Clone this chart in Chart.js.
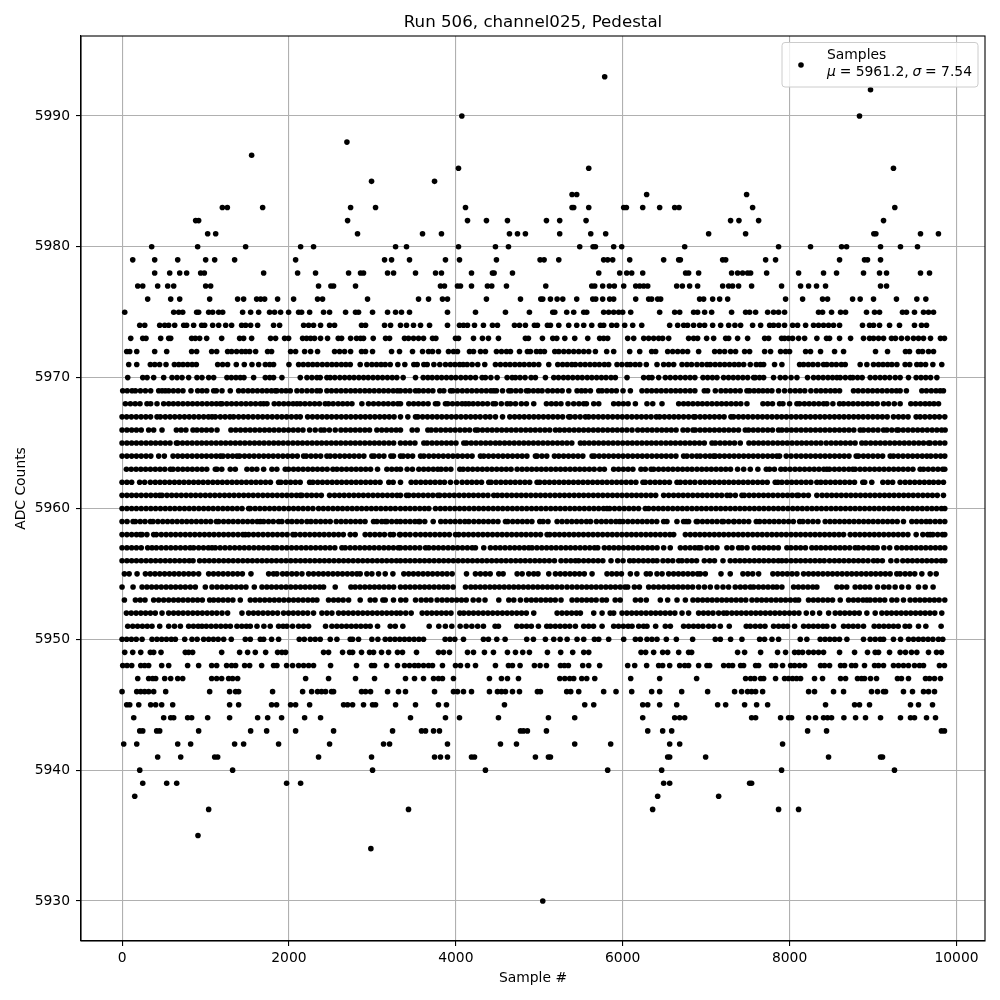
<!DOCTYPE html>
<html>
<head>
<meta charset="utf-8">
<title>Run 506, channel025, Pedestal</title>
<script src="https://cdn.jsdelivr.net/npm/chart.js@4"></script>
<style>
  html, body { margin: 0; padding: 0; background: #fff; }
  canvas { display: block; }
</style>
</head>
<body>
<canvas id="chart" width="1000" height="1000"></canvas>
<script>
// Tick labels
const xTicks = [0, 2000, 4000, 6000, 8000, 10000];
const yTicks = [5930, 5940, 5950, 5960, 5970, 5980, 5990];

// Sample numbers, one list per ADC level
const s5993 = [5784];
const s5992 = [8970];
const s5990 = [4072, 8838];
const s5988 = [2695];
const s5987 = [1553];
const s5986 = [4032, 5593, 9245];
const s5985 = [2990, 3745];
const s5984 = [5393, 5449, 6287, 7485];
const s5983 = [1202, 1262, 1685, 2739, 3038, 4116, 5393, 5413, 5593, 6012, 6044, 6240, 6443, 6623, 6675, 7557, 9261];
const s5982 = [882, 918, 2703, 4140, 4367, 4619, 5086, 5245, 5561, 7293, 7393, 7629, 9126];
const s5981 = [1026, 1122, 2822, 3601, 3828, 4643, 4739, 4834, 5245, 5617, 5796, 7030, 7473, 9010, 9034, 9569, 9784];
const s5980 = [355, 906, 1481, 2140, 2295, 3278, 3409, 4032, 4475, 4631, 5485, 5645, 5673, 5892, 5988, 6743, 7868, 8251, 8623, 8683, 9090, 9329, 9533];
const s5979 = [128, 391, 667, 1002, 1110, 1349, 2080, 3146, 3230, 3445, 3876, 4044, 4487, 5010, 5058, 5234, 5772, 5820, 5880, 6084, 6491, 6671, 6691, 7198, 7234, 7713, 7832, 8599, 8898, 8934, 9090];
const s5978 = [391, 571, 691, 774, 942, 986, 1697, 2104, 2319, 2715, 2858, 2894, 3182, 3254, 3517, 3757, 3828, 4188, 4439, 4459, 4679, 5713, 5964, 6048, 6108, 6240, 6754, 6790, 6910, 7305, 7377, 7437, 7497, 7533, 7725, 8108, 8407, 8563, 8886, 9078, 9162, 9569, 9677];
const s5977 = [188, 248, 427, 547, 619, 1002, 1062, 2355, 2503, 2535, 2798, 3816, 3864, 4020, 4056, 4188, 4379, 4431, 4607, 5078, 5629, 5665, 5760, 5840, 5900, 6012, 6156, 6204, 6252, 6300, 6647, 6715, 6802, 6898, 7198, 7270, 7317, 7389, 7545, 7904, 8132, 8228, 8323, 8431, 9090, 9162];
const s5976 = [307, 583, 691, 1050, 1385, 1457, 1613, 1661, 1709, 1864, 2056, 2343, 2403, 2942, 3553, 3673, 3840, 3900, 4367, 4775, 5018, 5042, 5134, 5214, 5282, 5449, 5641, 5677, 5760, 5844, 5892, 6156, 6311, 6347, 6419, 6455, 6922, 6970, 7078, 7162, 7258, 7952, 8156, 8395, 8455, 8755, 8846, 9006, 9281, 9525, 9633];
const s5975 = [32, 619, 679, 727, 894, 918, 1038, 1086, 1158, 1206, 1445, 1541, 1637, 1768, 1828, 1900, 1996, 2116, 2152, 2248, 2415, 2487, 2679, 2798, 2834, 3002, 3182, 3278, 3349, 3445, 3900, 4236, 4595, 4882, 5162, 5186, 5329, 5413, 5533, 5569, 5772, 5832, 5892, 5952, 6000, 6096, 6443, 6623, 6683, 6850, 6898, 6982, 7066, 7305, 7473, 7521, 7593, 7737, 7808, 7868, 7940, 8347, 8395, 8503, 8611, 8671, 8922, 9018, 9078, 9353, 9401, 9497, 9605, 9665, 9725];
const s5974 = [212, 272, 451, 511, 559, 631, 739, 774, 858, 954, 990, 1086, 1158, 1242, 1313, 1433, 1481, 1541, 1625, 1816, 1888, 2176, 2236, 2295, 2379, 2487, 2547, 2870, 2918, 3146, 3218, 3337, 3409, 3493, 3577, 3685, 3900, 4044, 4092, 4140, 4224, 4331, 4439, 4499, 4703, 4763, 4834, 4942, 4978, 5098, 5134, 5234, 5353, 5449, 5533, 5629, 5733, 5772, 5868, 5928, 6024, 6120, 6228, 6563, 6659, 6731, 6778, 6850, 6922, 6982, 7078, 7174, 7270, 7345, 7413, 7557, 7653, 7761, 7808, 7868, 7940, 8036, 8096, 8192, 8287, 8347, 8407, 8467, 8527, 8599, 8874, 8958, 9006, 9078, 9198, 9317, 9497, 9581, 9641];
const s5973 = [104, 248, 287, 463, 559, 583, 834, 878, 930, 1014, 1194, 1409, 1457, 1553, 1780, 1840, 1948, 1996, 2164, 2212, 2260, 2307, 2379, 2463, 2591, 2631, 2739, 2810, 2858, 2894, 3010, 3158, 3206, 3385, 3433, 3493, 3553, 3613, 3721, 3761, 3996, 4032, 4212, 4319, 4391, 4511, 4834, 4870, 5038, 5162, 5210, 5306, 5425, 5581, 5724, 5772, 5820, 6060, 6132, 6252, 6311, 6371, 6431, 6479, 6551, 6790, 6850, 6898, 7006, 7090, 7234, 7270, 7377, 7497, 7701, 7749, 7904, 7940, 7988, 8036, 8108, 8180, 8327, 8443, 8479, 8599, 8731, 8886, 8958, 9006, 9066, 9126, 9221, 9269, 9341, 9413, 9485, 9545, 9605, 9689, 9808, 9856];
const s5972 = [56, 92, 176, 391, 535, 834, 894, 1074, 1134, 1265, 1313, 1373, 1433, 1481, 1529, 1601, 1744, 1792, 2020, 2080, 2188, 2260, 2343, 2547, 2607, 2667, 2739, 2870, 2918, 3002, 3230, 3325, 3481, 3601, 3673, 3721, 3792, 3912, 3972, 4020, 4164, 4212, 4296, 4355, 4487, 4547, 4607, 4655, 4763, 4858, 4894, 4966, 5014, 5062, 5186, 5234, 5294, 5353, 5413, 5473, 5533, 5593, 5673, 5808, 5892, 6084, 6204, 6347, 6395, 6539, 6599, 6659, 6719, 6778, 6910, 7102, 7162, 7222, 7293, 7353, 7461, 7521, 7701, 7772, 7892, 7952, 8000, 8192, 8251, 8371, 8539, 8647, 9030, 9174, 9389, 9437, 9545, 9593, 9665, 9725];
const s5971 = [80, 176, 339, 392, 450, 527, 627, 680, 731, 786, 840, 890, 1146, 1205, 1265, 1369, 1465, 1557, 1637, 1717, 1770, 1816, 2000, 2116, 2172, 2230, 2285, 2340, 2400, 2458, 2515, 2570, 2628, 2682, 2735, 2854, 2934, 2994, 3050, 3104, 3154, 3214, 3305, 3389, 3497, 3537, 3617, 3657, 3737, 3808, 3876, 3935, 3990, 4045, 4088, 4136, 4196, 4263, 4347, 4475, 4535, 4595, 4650, 4708, 4765, 4820, 4880, 4935, 4994, 5114, 5222, 5280, 5335, 5390, 5433, 5493, 5550, 5608, 5665, 5720, 5780, 5832, 5932, 5990, 6052, 6092, 6150, 6205, 6283, 6411, 6491, 6551, 6611, 6711, 6770, 6825, 6890, 6950, 7010, 7050, 7108, 7165, 7222, 7280, 7338, 7392, 7450, 7529, 7601, 7650, 7689, 7820, 7908, 8120, 8168, 8225, 8280, 8340, 8407, 8447, 8505, 8560, 8620, 8667, 8846, 8926, 9006, 9066, 9120, 9175, 9226, 9286, 9385, 9440, 9525, 9573, 9630, 9717, 9824];
const s5970 = [68, 248, 300, 379, 499, 599, 659, 719, 798, 898, 958, 1038, 1098, 1257, 1310, 1365, 1417, 1461, 1577, 1717, 1770, 1816, 1916, 2136, 2216, 2275, 2335, 2375, 2455, 2495, 2550, 2610, 2668, 2725, 2780, 2838, 2895, 2950, 3008, 3065, 3122, 3180, 3238, 3293, 3369, 3517, 3609, 3665, 3717, 3775, 3830, 3888, 3945, 4000, 4060, 4118, 4176, 4236, 4315, 4355, 4420, 4495, 4615, 4675, 4715, 4770, 4830, 4902, 4954, 5074, 5174, 5230, 5290, 5345, 5402, 5460, 5515, 5575, 5630, 5688, 5745, 5800, 5860, 5912, 6052, 6251, 6311, 6351, 6431, 6511, 6570, 6631, 6691, 6750, 6808, 6865, 6962, 7018, 7075, 7130, 7209, 7268, 7325, 7382, 7440, 7498, 7569, 7589, 7640, 7689, 7808, 7888, 7948, 8018, 8088, 8215, 8287, 8345, 8402, 8460, 8515, 8567, 8607, 8668, 8727, 8758, 8815, 8870, 8966, 9026, 9085, 9142, 9200, 9266, 9325, 9425, 9517, 9575, 9632, 9690, 9765];
const s5969 = [8, 62, 120, 160, 220, 280, 343, 439, 480, 519, 559, 615, 672, 730, 826, 906, 960, 1015, 1098, 1130, 1198, 1297, 1397, 1452, 1510, 1565, 1622, 1680, 1735, 1790, 1836, 1856, 1912, 1965, 2016, 2096, 2155, 2216, 2275, 2335, 2375, 2455, 2510, 2568, 2625, 2682, 2740, 2795, 2852, 2910, 2965, 3022, 3080, 3136, 3192, 3250, 3300, 3337, 3395, 3450, 3517, 3557, 3612, 3670, 3725, 3808, 3856, 3936, 3964, 4020, 4078, 4135, 4192, 4250, 4308, 4365, 4420, 4455, 4487, 4560, 4635, 4663, 4720, 4778, 4846, 4874, 4930, 4985, 5034, 5102, 5160, 5218, 5275, 5354, 5453, 5505, 5553, 5613, 5713, 5753, 5810, 5868, 5924, 6004, 6092, 6231, 6290, 6347, 6405, 6462, 6520, 6578, 6635, 6691, 6750, 6808, 6865, 6978, 7018, 7110, 7178, 7235, 7292, 7350, 7408, 7489, 7521, 7575, 7629, 7681, 7735, 7788, 7868, 7940, 8008, 8068, 8125, 8182, 8255, 8319, 8375, 8432, 8490, 8545, 8599, 8766, 8822, 8880, 8938, 8995, 9052, 9110, 9168, 9225, 9280, 9325, 9400, 9585, 9640, 9698, 9755, 9805, 9844];
const s5968 = [40, 100, 158, 215, 299, 343, 419, 499, 559, 615, 672, 730, 788, 845, 902, 960, 1018, 1075, 1130, 1178, 1198, 1255, 1312, 1370, 1428, 1485, 1542, 1600, 1658, 1697, 1737, 1824, 1880, 1938, 1995, 2050, 2096, 2136, 2192, 2250, 2308, 2365, 2435, 2475, 2530, 2590, 2645, 2700, 2755, 2874, 2954, 3014, 3074, 3134, 3190, 3250, 3305, 3337, 3437, 3495, 3552, 3610, 3668, 3756, 3784, 3876, 3904, 3960, 4018, 4075, 4116, 4156, 4208, 4265, 4322, 4380, 4447, 4475, 4545, 4615, 4655, 4715, 4785, 4846, 4934, 5086, 5145, 5202, 5260, 5345, 5413, 5475, 5533, 5565, 5653, 5713, 5892, 5950, 6008, 6065, 6152, 6291, 6360, 6471, 6671, 6730, 6785, 6842, 6900, 6955, 7012, 7070, 7128, 7185, 7242, 7300, 7358, 7415, 7489, 7681, 7738, 7795, 7880, 7920, 8000, 8088, 8120, 8178, 8235, 8292, 8350, 8408, 8447, 8519, 8599, 8647, 8705, 8762, 8820, 8878, 8935, 8992, 9050, 9126, 9186, 9255, 9325, 9453, 9510, 9568, 9625, 9677, 9730, 9785];
const s5967 = [0, 55, 112, 170, 228, 285, 342, 419, 459, 518, 575, 632, 690, 748, 805, 862, 920, 978, 1035, 1078, 1118, 1178, 1235, 1292, 1337, 1397, 1455, 1512, 1570, 1628, 1685, 1742, 1800, 1858, 1915, 1972, 2030, 2088, 2136, 2224, 2282, 2340, 2398, 2455, 2512, 2570, 2628, 2685, 2742, 2800, 2858, 2915, 2972, 3030, 3088, 3145, 3202, 3260, 3337, 3425, 3517, 3545, 3602, 3660, 3718, 3775, 3832, 3890, 3948, 4005, 4062, 4120, 4178, 4235, 4292, 4355, 4410, 4475, 4560, 4647, 4705, 4762, 4820, 4878, 4935, 4992, 5050, 5108, 5165, 5222, 5280, 5353, 5373, 5430, 5490, 5553, 5593, 5650, 5708, 5765, 5822, 5880, 5938, 5995, 6052, 6110, 6168, 6225, 6282, 6340, 6403, 6443, 6500, 6558, 6615, 6671, 6730, 6790, 6850, 6870, 6928, 6985, 7042, 7100, 7158, 7215, 7297, 7329, 7388, 7445, 7502, 7560, 7618, 7675, 7732, 7790, 7848, 7905, 7962, 8020, 8078, 8135, 8192, 8250, 8308, 8365, 8422, 8480, 8538, 8595, 8652, 8710, 8768, 8825, 8882, 8940, 8998, 9055, 9112, 9170, 9245, 9305, 9362, 9420, 9517, 9565, 9622, 9680, 9738, 9795, 9860];
const s5966 = [0, 58, 115, 172, 230, 319, 379, 479, 651, 708, 765, 850, 898, 955, 1012, 1070, 1138, 1305, 1362, 1420, 1478, 1535, 1592, 1650, 1708, 1765, 1822, 1880, 1938, 1995, 2052, 2110, 2168, 2248, 2315, 2383, 2423, 2485, 2555, 2623, 2680, 2738, 2795, 2852, 2910, 2966, 3054, 3112, 3170, 3228, 3285, 3337, 3477, 3537, 3665, 3705, 3762, 3820, 3878, 3935, 3992, 4050, 4108, 4165, 4235, 4263, 4320, 4378, 4435, 4492, 4550, 4608, 4665, 4722, 4780, 4838, 4895, 4952, 5010, 5068, 5125, 5194, 5245, 5302, 5360, 5418, 5475, 5532, 5590, 5648, 5705, 5762, 5820, 5878, 5935, 5992, 6050, 6112, 6180, 6238, 6295, 6352, 6410, 6468, 6525, 6582, 6640, 6723, 6778, 6842, 6870, 6928, 6985, 7042, 7100, 7158, 7215, 7272, 7330, 7388, 7469, 7509, 7565, 7622, 7680, 7738, 7795, 7868, 7908, 7965, 8022, 8080, 8138, 8195, 8252, 8310, 8368, 8425, 8482, 8540, 8598, 8655, 8712, 8770, 8846, 8886, 8945, 9002, 9060, 9126, 9166, 9225, 9285, 9305, 9362, 9420, 9478, 9535, 9592, 9650, 9708, 9765, 9822, 9864];
const s5965 = [0, 58, 115, 172, 230, 288, 345, 402, 460, 518, 575, 651, 667, 725, 782, 840, 898, 955, 1012, 1070, 1128, 1185, 1242, 1300, 1358, 1415, 1472, 1530, 1588, 1645, 1702, 1760, 1818, 1875, 1932, 1990, 2048, 2105, 2162, 2220, 2278, 2335, 2392, 2450, 2508, 2565, 2622, 2680, 2738, 2795, 2852, 2910, 2968, 3025, 3082, 3140, 3198, 3255, 3337, 3395, 3452, 3510, 3617, 3657, 3715, 3772, 3830, 3888, 3945, 4002, 4096, 4128, 4185, 4242, 4300, 4358, 4415, 4475, 4527, 4585, 4642, 4700, 4758, 4815, 4872, 4930, 4988, 5045, 5102, 5160, 5218, 5275, 5332, 5390, 5493, 5541, 5598, 5655, 5712, 5770, 5828, 5885, 5942, 6000, 6058, 6115, 6172, 6230, 6288, 6345, 6402, 6460, 6518, 6575, 6632, 6691, 6748, 6805, 6862, 6920, 6978, 7070, 7110, 7168, 7225, 7282, 7340, 7409, 7513, 7570, 7628, 7685, 7742, 7800, 7858, 7915, 7972, 8030, 8088, 8145, 8202, 8260, 8318, 8375, 8439, 8498, 8555, 8612, 8670, 8728, 8785, 8866, 8914, 8972, 9030, 9088, 9145, 9202, 9260, 9318, 9375, 9432, 9490, 9548, 9605, 9665, 9685, 9745, 9802, 9860];
const s5964 = [0, 58, 115, 172, 230, 288, 345, 439, 507, 611, 668, 725, 782, 840, 898, 955, 1012, 1070, 1128, 1178, 1210, 1268, 1325, 1377, 1409, 1468, 1525, 1582, 1640, 1698, 1755, 1812, 1870, 1928, 1985, 2042, 2100, 2176, 2208, 2265, 2322, 2380, 2455, 2495, 2552, 2610, 2668, 2725, 2782, 2840, 2898, 2994, 3022, 3080, 3138, 3222, 3253, 3337, 3369, 3425, 3482, 3577, 3617, 3677, 3735, 3792, 3850, 3908, 3965, 4022, 4080, 4138, 4195, 4295, 4335, 4392, 4450, 4508, 4565, 4622, 4680, 4738, 4795, 4852, 4954, 4974, 5032, 5090, 5182, 5234, 5292, 5350, 5408, 5465, 5522, 5633, 5661, 5718, 5775, 5832, 5890, 5948, 6005, 6062, 6120, 6178, 6235, 6292, 6350, 6408, 6465, 6522, 6580, 6638, 6730, 6770, 6830, 6888, 6930, 6990, 7045, 7090, 7110, 7162, 7220, 7278, 7335, 7392, 7450, 7508, 7565, 7622, 7680, 7738, 7795, 7848, 7880, 7960, 8018, 8080, 8138, 8195, 8252, 8310, 8368, 8425, 8482, 8540, 8598, 8655, 8712, 8798, 8826, 8885, 8942, 9000, 9058, 9115, 9206, 9245, 9302, 9360, 9418, 9475, 9532, 9590, 9645, 9693, 9752, 9810, 9860];
const s5963 = [52, 110, 168, 225, 282, 340, 398, 455, 512, 579, 611, 670, 728, 785, 842, 900, 958, 1015, 1118, 1138, 1195, 1297, 1357, 1497, 1557, 1615, 1697, 1796, 1855, 1956, 1996, 2055, 2112, 2170, 2228, 2285, 2342, 2400, 2458, 2527, 2575, 2632, 2690, 2748, 2805, 2862, 2920, 2978, 3062, 3174, 3232, 3290, 3337, 3417, 3480, 3557, 3615, 3672, 3730, 3784, 3824, 3882, 3940, 4048, 4088, 4145, 4202, 4260, 4318, 4375, 4432, 4490, 4548, 4605, 4662, 4735, 4794, 4852, 4910, 4968, 5025, 5082, 5140, 5198, 5255, 5312, 5370, 5428, 5485, 5542, 5600, 5658, 5725, 5780, 5892, 5950, 6008, 6065, 6122, 6219, 6271, 6340, 6371, 6430, 6488, 6545, 6602, 6660, 6718, 6775, 6830, 6890, 6948, 7005, 7062, 7120, 7178, 7235, 7292, 7377, 7450, 7529, 7620, 7721, 7760, 7818, 7896, 7948, 8006, 8065, 8122, 8180, 8238, 8295, 8352, 8410, 8447, 8479, 8538, 8595, 8652, 8710, 8758, 8786, 8845, 8902, 8960, 9018, 9075, 9132, 9190, 9248, 9305, 9362, 9420, 9478, 9565, 9605, 9662, 9720, 9778, 9835, 9860];
const s5962 = [0, 58, 115, 211, 271, 339, 398, 455, 512, 570, 628, 685, 742, 800, 858, 915, 972, 1030, 1088, 1145, 1202, 1260, 1318, 1375, 1432, 1490, 1548, 1605, 1662, 1720, 1778, 1876, 1904, 1962, 2020, 2078, 2135, 2248, 2287, 2345, 2402, 2460, 2518, 2575, 2632, 2690, 2748, 2805, 2862, 2920, 2978, 3035, 3092, 3197, 3249, 3337, 3465, 3522, 3580, 3638, 3695, 3752, 3810, 3864, 3936, 4008, 4076, 4135, 4192, 4250, 4308, 4395, 4423, 4482, 4540, 4598, 4655, 4712, 4770, 4828, 4885, 4974, 5006, 5065, 5122, 5180, 5238, 5295, 5352, 5410, 5468, 5525, 5582, 5640, 5698, 5755, 5812, 5870, 5928, 5985, 6042, 6100, 6158, 6243, 6271, 6330, 6388, 6445, 6502, 6560, 6651, 6691, 6750, 6808, 6865, 6930, 6985, 7042, 7100, 7158, 7215, 7272, 7330, 7388, 7445, 7502, 7560, 7618, 7675, 7732, 7828, 7860, 7908, 7968, 8025, 8082, 8140, 8198, 8255, 8327, 8375, 8432, 8490, 8548, 8605, 8662, 8720, 8778, 8878, 8900, 8985, 9118, 9178, 9235, 9325, 9385, 9442, 9500, 9558, 9615, 9672, 9725, 9784, 9844];
const s5961 = [0, 58, 115, 172, 230, 288, 345, 402, 451, 479, 538, 595, 652, 710, 768, 825, 882, 940, 998, 1055, 1112, 1170, 1228, 1285, 1342, 1400, 1458, 1515, 1572, 1630, 1688, 1745, 1802, 1860, 1918, 1975, 2032, 2090, 2136, 2156, 2215, 2272, 2330, 2388, 2487, 2547, 2605, 2662, 2720, 2778, 2835, 2892, 2950, 3008, 3065, 3122, 3180, 3238, 3295, 3337, 3409, 3437, 3495, 3552, 3610, 3668, 3725, 3784, 3808, 3866, 3924, 3982, 4040, 4098, 4155, 4212, 4270, 4328, 4385, 4455, 4500, 4555, 4612, 4670, 4728, 4785, 4842, 4900, 4958, 5015, 5072, 5130, 5188, 5245, 5302, 5360, 5418, 5475, 5532, 5590, 5648, 5705, 5762, 5820, 5878, 5935, 5992, 6050, 6108, 6165, 6222, 6280, 6338, 6395, 6491, 6551, 6610, 6668, 6725, 6782, 6840, 6898, 6955, 7012, 7070, 7128, 7185, 7250, 7289, 7350, 7429, 7457, 7515, 7572, 7630, 7688, 7745, 7802, 7860, 7918, 7975, 8032, 8088, 8108, 8168, 8225, 8327, 8390, 8447, 8505, 8562, 8620, 8678, 8735, 8792, 8850, 8908, 8965, 9022, 9080, 9138, 9195, 9252, 9310, 9368, 9425, 9482, 9540, 9598, 9655, 9712, 9770, 9844];
const s5960 = [0, 58, 115, 172, 230, 288, 345, 402, 460, 518, 575, 632, 690, 748, 805, 862, 920, 978, 1035, 1092, 1150, 1208, 1265, 1322, 1380, 1438, 1517, 1537, 1595, 1652, 1710, 1768, 1825, 1882, 1940, 1998, 2055, 2112, 2170, 2228, 2287, 2355, 2412, 2470, 2528, 2585, 2642, 2700, 2758, 2815, 2872, 2930, 2988, 3045, 3102, 3160, 3218, 3275, 3337, 3395, 3452, 3510, 3568, 3625, 3677, 3756, 3815, 3872, 3930, 3988, 4045, 4102, 4160, 4218, 4275, 4332, 4390, 4448, 4505, 4562, 4620, 4678, 4735, 4792, 4850, 4908, 4965, 5022, 5080, 5138, 5195, 5252, 5310, 5368, 5425, 5482, 5540, 5598, 5655, 5712, 5770, 5812, 5844, 5902, 5960, 6018, 6075, 6132, 6190, 6271, 6311, 6370, 6428, 6485, 6542, 6600, 6658, 6715, 6772, 6830, 6888, 6945, 7002, 7060, 7118, 7175, 7232, 7290, 7348, 7405, 7462, 7520, 7578, 7635, 7692, 7750, 7808, 7865, 7922, 7980, 8038, 8095, 8152, 8210, 8268, 8325, 8382, 8440, 8498, 8555, 8612, 8670, 8728, 8785, 8842, 8900, 8958, 9015, 9072, 9130, 9188, 9245, 9302, 9360, 9418, 9475, 9532, 9590, 9648, 9705, 9762, 9820, 9860];
const s5959 = [0, 60, 132, 160, 218, 275, 339, 371, 430, 488, 545, 602, 660, 718, 775, 832, 890, 948, 1005, 1062, 1130, 1158, 1217, 1275, 1332, 1390, 1448, 1505, 1562, 1620, 1657, 1697, 1755, 1812, 1876, 1916, 1984, 2036, 2095, 2152, 2216, 2264, 2322, 2380, 2438, 2495, 2567, 2625, 2682, 2740, 2798, 2855, 2912, 3014, 3054, 3112, 3154, 3174, 3232, 3290, 3337, 3395, 3452, 3510, 3557, 3569, 3628, 3729, 3820, 3876, 3935, 3992, 4050, 4108, 4156, 4216, 4275, 4332, 4390, 4448, 4505, 4595, 4623, 4682, 4740, 4798, 4855, 4912, 5006, 5046, 5105, 5214, 5273, 5332, 5390, 5448, 5505, 5565, 5615, 5685, 5745, 5802, 5860, 5918, 5964, 6004, 6062, 6120, 6178, 6235, 6292, 6350, 6408, 6491, 6530, 6650, 6730, 6762, 6790, 6882, 6898, 6956, 7014, 7072, 7130, 7190, 7209, 7268, 7329, 7337, 7395, 7452, 7510, 7601, 7641, 7700, 7758, 7815, 7872, 7930, 7988, 8045, 8120, 8160, 8220, 8280, 8340, 8427, 8485, 8542, 8600, 8658, 8715, 8772, 8830, 8888, 8945, 9002, 9060, 9118, 9175, 9232, 9290, 9365, 9465, 9522, 9580, 9637, 9685, 9745, 9802, 9860];
const s5958 = [0, 58, 115, 172, 219, 240, 298, 379, 411, 470, 528, 585, 642, 700, 758, 815, 872, 930, 988, 1045, 1102, 1160, 1218, 1275, 1332, 1390, 1448, 1477, 1517, 1575, 1632, 1690, 1748, 1805, 1862, 1920, 1978, 2048, 2076, 2135, 2192, 2250, 2308, 2365, 2422, 2480, 2538, 2595, 2652, 2735, 2794, 2914, 2972, 3030, 3088, 3145, 3214, 3253, 3325, 3337, 3395, 3452, 3517, 3577, 3635, 3692, 3750, 3808, 3865, 3922, 3996, 4036, 4095, 4152, 4210, 4268, 4325, 4382, 4440, 4498, 4555, 4612, 4670, 4728, 4785, 4842, 4900, 4958, 5015, 5094, 5126, 5185, 5242, 5300, 5358, 5415, 5472, 5530, 5588, 5645, 5702, 5760, 5818, 5875, 5932, 5990, 6048, 6105, 6162, 6220, 6278, 6335, 6392, 6450, 6508, 6565, 6611, 6751, 6810, 6868, 6925, 6982, 7040, 7098, 7155, 7212, 7270, 7328, 7385, 7442, 7500, 7558, 7615, 7672, 7730, 7788, 7845, 7902, 7960, 8018, 8075, 8132, 8190, 8248, 8305, 8362, 8420, 8478, 8535, 8592, 8647, 8727, 8785, 8842, 8900, 8958, 9015, 9072, 9130, 9188, 9245, 9302, 9360, 9418, 9517, 9597, 9655, 9685, 9717, 9775, 9832, 9860];
const s5957 = [0, 58, 115, 172, 230, 307, 359, 411, 470, 528, 585, 642, 700, 758, 815, 858, 918, 976, 1034, 1078, 1118, 1176, 1234, 1292, 1350, 1408, 1465, 1522, 1580, 1638, 1695, 1752, 1810, 1856, 1916, 1974, 2032, 2090, 2148, 2205, 2262, 2320, 2378, 2435, 2492, 2550, 2635, 2675, 2734, 2792, 2850, 2908, 2965, 3022, 3080, 3138, 3195, 3252, 3310, 3337, 3395, 3452, 3510, 3568, 3637, 3677, 3735, 3792, 3850, 3908, 3965, 4022, 4080, 4138, 4196, 4235, 4335, 4415, 4475, 4532, 4590, 4648, 4705, 4762, 4820, 4874, 4914, 4972, 5030, 5088, 5145, 5202, 5260, 5318, 5375, 5432, 5490, 5548, 5605, 5662, 5701, 5780, 5838, 5895, 5952, 6010, 6068, 6125, 6182, 6240, 6298, 6355, 6412, 6491, 6570, 6691, 6750, 6808, 6865, 6910, 6938, 7010, 7070, 7130, 7249, 7310, 7389, 7430, 7490, 7577, 7635, 7692, 7750, 7808, 7865, 7968, 8016, 8075, 8132, 8190, 8267, 8320, 8375, 8432, 8490, 8548, 8605, 8662, 8720, 8786, 8826, 8885, 8946, 9000, 9050, 9130, 9200, 9285, 9345, 9402, 9460, 9518, 9575, 9632, 9690, 9748, 9805, 9860];
const s5956 = [0, 58, 115, 172, 230, 288, 345, 402, 460, 518, 575, 632, 690, 748, 805, 851, 930, 988, 1045, 1102, 1160, 1218, 1275, 1332, 1390, 1448, 1505, 1562, 1620, 1678, 1735, 1792, 1850, 1908, 1965, 2022, 2080, 2138, 2195, 2252, 2310, 2368, 2425, 2482, 2540, 2598, 2655, 2712, 2770, 2828, 2885, 2942, 3000, 3058, 3115, 3172, 3230, 3288, 3337, 3395, 3452, 3510, 3568, 3625, 3682, 3740, 3798, 3855, 3912, 3970, 4028, 4085, 4142, 4200, 4258, 4315, 4372, 4430, 4488, 4545, 4602, 4660, 4718, 4775, 4832, 4890, 4948, 5005, 5062, 5120, 5182, 5261, 5320, 5378, 5433, 5473, 5532, 5590, 5648, 5705, 5762, 5860, 5940, 6004, 6084, 6132, 6190, 6248, 6305, 6362, 6411, 6483, 6542, 6600, 6671, 6711, 6770, 6828, 6885, 6978, 7042, 7100, 7202, 7289, 7348, 7405, 7462, 7520, 7578, 7635, 7692, 7750, 7808, 7865, 7908, 7960, 8018, 8075, 8132, 8190, 8248, 8305, 8362, 8415, 8479, 8538, 8595, 8652, 8710, 8768, 8825, 8882, 8940, 9006, 9054, 9112, 9214, 9285, 9357, 9415, 9472, 9530, 9588, 9645, 9702, 9760, 9818, 9860];
const s5955 = [28, 85, 180, 280, 338, 395, 452, 510, 568, 625, 682, 740, 798, 855, 918, 1038, 1096, 1154, 1212, 1270, 1328, 1385, 1442, 1545, 1757, 1815, 1856, 1924, 1976, 2035, 2092, 2156, 2236, 2295, 2355, 2412, 2470, 2528, 2585, 2642, 2700, 2758, 2814, 2854, 2934, 2994, 3074, 3154, 3246, 3377, 3435, 3492, 3550, 3608, 3665, 3722, 3780, 3838, 3895, 3956, 4128, 4235, 4295, 4355, 4412, 4515, 4567, 4735, 4795, 4874, 4934, 4985, 5114, 5194, 5252, 5310, 5368, 5425, 5482, 5540, 5633, 5812, 5870, 5928, 5985, 6092, 6170, 6283, 6330, 6411, 6472, 6551, 6610, 6668, 6725, 6782, 6840, 6898, 6930, 6990, 7178, 7289, 7441, 7500, 7558, 7629, 7800, 7858, 7915, 7972, 8030, 8088, 8168, 8227, 8285, 8342, 8400, 8458, 8515, 8572, 8630, 8688, 8745, 8802, 8860, 8918, 8975, 9032, 9090, 9148, 9205, 9285, 9325, 9385, 9442, 9500, 9585, 9685, 9757];
const s5954 = [0, 132, 240, 298, 355, 412, 470, 528, 585, 642, 700, 758, 818, 878, 998, 1078, 1138, 1196, 1254, 1312, 1370, 1428, 1485, 1585, 1677, 1735, 1792, 1850, 1908, 1965, 2022, 2080, 2138, 2195, 2252, 2310, 2368, 2415, 2555, 2743, 2794, 2852, 2910, 2968, 3025, 3082, 3140, 3198, 3255, 3337, 3395, 3452, 3510, 3568, 3625, 3682, 3740, 3798, 3855, 3904, 3968, 4116, 4180, 4235, 4293, 4350, 4408, 4465, 4522, 4580, 4638, 4695, 4752, 4810, 4868, 4925, 4982, 5040, 5098, 5155, 5212, 5270, 5333, 5393, 5452, 5510, 5568, 5625, 5682, 5740, 5798, 5855, 5912, 5970, 6028, 6060, 6140, 6200, 6311, 6371, 6430, 6491, 6550, 6608, 6665, 6722, 6780, 6838, 6910, 6980, 7050, 7130, 7202, 7269, 7349, 7410, 7468, 7529, 7569, 7628, 7685, 7742, 7800, 7848, 7908, 8048, 8105, 8162, 8220, 8278, 8327, 8567, 8625, 8685, 8786, 8846, 8905, 8962, 9054, 9128, 9190, 9265, 9345, 9425, 9545, 9625, 9720];
const s5953 = [28, 160, 218, 275, 379, 439, 499, 559, 618, 675, 732, 790, 848, 905, 962, 1050, 1098, 1155, 1212, 1270, 1328, 1417, 1537, 1595, 1652, 1710, 1768, 1825, 1882, 1940, 1998, 2055, 2112, 2170, 2228, 2285, 2335, 2475, 2535, 2592, 2650, 2715, 2854, 2974, 3032, 3126, 3154, 3253, 3340, 3400, 3517, 3585, 3645, 3702, 3776, 3836, 3895, 3952, 4010, 4068, 4125, 4208, 4275, 4350, 4515, 4635, 4695, 4774, 4846, 4905, 4962, 5020, 5078, 5135, 5192, 5261, 5393, 5452, 5510, 5568, 5625, 5682, 5753, 5805, 5910, 5970, 6152, 6215, 6283, 6451, 6539, 6651, 6751, 6842, 6900, 6958, 7015, 7072, 7130, 7188, 7245, 7302, 7360, 7418, 7475, 7549, 7608, 7665, 7722, 7780, 7838, 7895, 7952, 8010, 8068, 8108, 8227, 8285, 8342, 8400, 8458, 8515, 8607, 8707, 8765, 8822, 8880, 8926, 8966, 9025, 9082, 9140, 9226, 9285, 9365, 9445, 9505, 9562, 9620, 9678, 9735, 9792, 9860];
const s5952 = [52, 110, 168, 225, 282, 340, 398, 479, 559, 618, 675, 732, 790, 848, 905, 962, 1020, 1078, 1135, 1198, 1265, 1437, 1517, 1575, 1632, 1690, 1748, 1805, 1864, 1936, 1995, 2052, 2110, 2168, 2225, 2295, 2395, 2455, 2515, 2595, 2654, 2712, 2770, 2828, 2885, 2942, 3000, 3058, 3115, 3172, 3230, 3288, 3337, 3400, 3465, 3597, 3655, 3712, 3770, 3828, 3885, 3942, 4048, 4096, 4155, 4212, 4270, 4328, 4385, 4442, 4500, 4558, 4615, 4672, 4730, 4788, 4845, 4934, 5214, 5272, 5330, 5388, 5445, 5493, 5653, 5753, 5850, 5892, 5992, 6050, 6108, 6165, 6222, 6280, 6338, 6395, 6452, 6510, 6568, 6625, 6711, 6790, 6910, 6968, 7025, 7082, 7150, 7210, 7249, 7308, 7365, 7422, 7480, 7538, 7595, 7652, 7710, 7768, 7825, 7882, 7940, 7998, 8055, 8112, 8200, 8276, 8360, 8468, 8547, 8605, 8662, 8720, 8778, 8835, 8926, 9026, 9106, 9165, 9222, 9280, 9338, 9395, 9452, 9510, 9568, 9625, 9682, 9740, 9824];
const s5951 = [68, 128, 186, 244, 302, 359, 451, 559, 628, 699, 798, 855, 912, 958, 1010, 1068, 1126, 1184, 1242, 1298, 1377, 1435, 1490, 1537, 1617, 1700, 1776, 1876, 1930, 1976, 2044, 2116, 2175, 2235, 2439, 2515, 2574, 2632, 2690, 2748, 2805, 2862, 2920, 2974, 3062, 3214, 3274, 3365, 3681, 3796, 3875, 3952, 4052, 4124, 4192, 4262, 4331, 4471, 4511, 4731, 4790, 4848, 4905, 4990, 5090, 5134, 5192, 5250, 5308, 5365, 5433, 5533, 5592, 5650, 5753, 5892, 5950, 6008, 6065, 6112, 6192, 6250, 6291, 6395, 6511, 6571, 6730, 6790, 6848, 6905, 6962, 7030, 7090, 7170, 7277, 7481, 7529, 7589, 7648, 7705, 7808, 7868, 7925, 7976, 8060, 8168, 8228, 8285, 8342, 8400, 8447, 8527, 8647, 8705, 8762, 8820, 8886, 9014, 9072, 9130, 9188, 9245, 9302, 9385, 9437, 9545, 9633, 9816];
const s5950 = [0, 55, 112, 170, 240, 359, 418, 475, 532, 590, 639, 751, 838, 900, 978, 1038, 1095, 1152, 1218, 1309, 1477, 1537, 1657, 1697, 1792, 1876, 2124, 2184, 2256, 2315, 2375, 2495, 2575, 2735, 2763, 2834, 2994, 3066, 3154, 3212, 3270, 3328, 3385, 3442, 3500, 3558, 3613, 3872, 3930, 3988, 4092, 4331, 4391, 4491, 4591, 4850, 4930, 5074, 5174, 5250, 5334, 5453, 5533, 5661, 5713, 5832, 6012, 6152, 6211, 6291, 6350, 6411, 6523, 6643, 6838, 7110, 7170, 7293, 7429, 7641, 7700, 7789, 7868, 8128, 8207, 8367, 8425, 8482, 8540, 8598, 8687, 8886, 8966, 9026, 9086, 9126, 9245, 9330, 9425, 9485, 9545, 9602, 9660, 9718, 9784, 9836];
const s5949 = [32, 128, 224, 339, 379, 467, 758, 798, 846, 1194, 1409, 1505, 1597, 1721, 1864, 1916, 1960, 2415, 2475, 2643, 2727, 2763, 2870, 2966, 3014, 3110, 3194, 3301, 3361, 3529, 3792, 3852, 3924, 4140, 4212, 4343, 4451, 4619, 4715, 4802, 4882, 5098, 5257, 5401, 5533, 5593, 6220, 6275, 6371, 6479, 6539, 6671, 6790, 6826, 7377, 7461, 7653, 7856, 7952, 8060, 8108, 8156, 8228, 8287, 8347, 8407, 8599, 8779, 8934, 9026, 9066, 9198, 9325, 9389, 9461, 9525, 9665, 9761, 9820];
const s5948 = [8, 60, 116, 224, 271, 319, 475, 559, 786, 918, 1074, 1134, 1253, 1313, 1361, 1469, 1529, 1673, 1816, 1856, 1972, 2044, 2116, 2176, 2236, 2295, 2499, 2810, 2990, 3026, 3170, 3301, 3385, 3445, 3505, 3553, 3613, 3673, 3721, 3840, 3996, 4056, 4140, 4236, 4475, 4631, 4679, 4770, 4942, 5010, 5086, 5254, 5301, 5349, 5521, 5593, 5724, 6060, 6144, 6287, 6431, 6479, 6563, 6683, 6743, 6790, 6910, 7010, 7042, 7210, 7270, 7317, 7413, 7449, 7593, 7629, 7784, 7832, 7916, 8012, 8060, 8120, 8180, 8371, 8419, 8479, 8611, 8659, 8743, 8791, 8898, 9018, 9066, 9126, 9245, 9305, 9365, 9425, 9497, 9557, 9605, 9796, 9856];
const s5947 = [188, 319, 367, 403, 511, 583, 667, 727, 1074, 1134, 1194, 1277, 1325, 1385, 2200, 2475, 2798, 3026, 3397, 3505, 3613, 3733, 3792, 3840, 3972, 4403, 4547, 4619, 4751, 5246, 5306, 5365, 5413, 5509, 5569, 5665, 6096, 6443, 6886, 7473, 7533, 7581, 7653, 7689, 7832, 7940, 7988, 8036, 8084, 8132, 8299, 8395, 8611, 8671, 8814, 8862, 8898, 8970, 9042, 9293, 9341, 9425, 9629, 9677, 9737, 9808];
const s5946 = [0, 176, 224, 271, 319, 379, 523, 1050, 1289, 1361, 1397, 1804, 2164, 2272, 2343, 2391, 2439, 2511, 2535, 2870, 2918, 2978, 3182, 3313, 3397, 3745, 3972, 4020, 4092, 4188, 4403, 4499, 4547, 4595, 4679, 4763, 4978, 5014, 5329, 5377, 5473, 5772, 5920, 6108, 6347, 6443, 6707, 7018, 7341, 7425, 7497, 7545, 7593, 7677, 8228, 8299, 8527, 8647, 8982, 9054, 9126, 9150, 9365, 9473, 9605, 9665, 9737];
const s5945 = [56, 92, 200, 343, 403, 475, 607, 1289, 1397, 1792, 1852, 2020, 2080, 2248, 2655, 2703, 2763, 2894, 3002, 3038, 3278, 3517, 3792, 3888, 4583, 5545, 5653, 6240, 6300, 6443, 6647, 7138, 7234, 7461, 7605, 7737, 8431, 8779, 8838, 8958, 9449, 9545, 9713];
const s5944 = [140, 499, 583, 619, 786, 834, 1026, 1289, 1625, 1745, 1912, 2188, 2379, 3457, 3876, 4044, 4511, 5110, 5425, 6240, 6623, 6683, 6743, 7545, 7593, 7892, 7988, 8024, 8228, 8311, 8407, 8455, 8503, 8651, 8791, 8910, 9090, 9329, 9449, 9497, 9641, 9749];
const s5943 = [212, 248, 415, 451, 918, 1541, 1733, 2080, 2535, 3242, 3589, 3637, 3733, 3804, 4775, 4811, 4858, 5086, 6300, 6479, 6587, 8216, 8443, 9820, 9856];
const s5942 = [20, 176, 667, 822, 1349, 1457, 1876, 2487, 3134, 3206, 3900, 4535, 4727, 5425, 5856, 6563, 6683, 7916];
const s5941 = [427, 703, 1110, 1146, 2355, 2990, 3745, 3816, 3900, 4188, 4224, 4954, 5110, 5134, 6539, 6563, 6994, 8467, 9090, 9114];
const s5940 = [212, 1325, 3002, 4355, 5820, 6467, 7904, 9257];
const s5939 = [248, 535, 655, 1972, 2140, 6491, 6563, 7521, 7545];
const s5938 = [152, 6419, 7150];
const s5937 = [1038, 3433, 6359, 7868, 8108];
const s5935 = [910];
const s5934 = [2982];
const s5930 = [5042];

const adcLevels = [5993, 5992, 5990, 5988, 5987, 5986, 5985, 5984, 5983, 5982, 5981, 5980, 5979, 5978, 5977, 5976, 5975, 5974, 5973, 5972, 5971, 5970, 5969, 5968, 5967, 5966, 5965, 5964, 5963, 5962, 5961, 5960, 5959, 5958, 5957, 5956, 5955, 5954, 5953, 5952, 5951, 5950, 5949, 5948, 5947, 5946, 5945, 5944, 5943, 5942, 5941, 5940, 5939, 5938, 5937, 5935, 5934, 5930];
const samplesByLevel = [s5993, s5992, s5990, s5988, s5987, s5986, s5985, s5984, s5983, s5982, s5981, s5980, s5979, s5978, s5977, s5976, s5975, s5974, s5973, s5972, s5971, s5970, s5969, s5968, s5967, s5966, s5965, s5964, s5963, s5962, s5961, s5960, s5959, s5958, s5957, s5956, s5955, s5954, s5953, s5952, s5951, s5950, s5949, s5948, s5947, s5946, s5945, s5944, s5943, s5942, s5941, s5940, s5939, s5938, s5937, s5935, s5934, s5930];

const points = [];
adcLevels.forEach((level, i) => {
  samplesByLevel[i].forEach(sample => points.push({ x: sample, y: level }));
});

const fontName = '"DejaVu Sans"';

// matplotlib style frame round the plot area
const framePlugin = {
  id: 'frame',
  afterDatasetsDraw(chart) {
    const { ctx, chartArea: a } = chart;
    ctx.save();
    ctx.strokeStyle = '#000';
    ctx.lineWidth = 1.1;
    ctx.strokeRect(a.left, a.top, a.right - a.left, a.bottom - a.top);
    ctx.restore();
  }
};

// Legend box with the two line label, the mu and sigma are italic
const legendPlugin = {
  id: 'sampleLegend',
  afterDraw(chart) {
    const ctx = chart.ctx;
    ctx.save();
    ctx.beginPath();
    ctx.roundRect(782, 42.5, 196, 44.5, 3);
    ctx.fillStyle = 'rgba(255,255,255,0.8)';
    ctx.fill();
    ctx.strokeStyle = '#cccccc';
    ctx.lineWidth = 1;
    ctx.stroke();

    ctx.beginPath();
    ctx.arc(801, 65, 2.8, 0, Math.PI * 2);
    ctx.fillStyle = '#000';
    ctx.fill();

    ctx.textBaseline = 'alphabetic';
    ctx.textAlign = 'left';
    const normal = '13.89px ' + fontName;
    const italic = 'italic 13.89px ' + fontName;
    ctx.font = normal;
    ctx.fillText('Samples', 827, 59);
    let x = 827;
    [['\u03bc', italic], [' = 5961.2, ', normal], ['\u03c3', italic], [' = 7.54', normal]].forEach(([text, font]) => {
      ctx.font = font;
      ctx.fillText(text, x, 76);
      x += ctx.measureText(text).width - 0.6;
    });
    ctx.restore();
  }
};

new Chart(document.getElementById('chart'), {
  type: 'scatter',
  data: {
    datasets: [{
      label: 'Samples',
      data: points,
      backgroundColor: '#000',
      borderWidth: 0,
      pointRadius: 2.8,
      pointHoverRadius: 2.8
    }]
  },
  plugins: [framePlugin, legendPlugin],
  options: {
    responsive: false,
    animation: false,
    events: [],
    layout: { padding: { left: 0, right: 15, top: 0, bottom: 0 } },
    plugins: {
      legend: { display: false },
      tooltip: { enabled: false },
      title: {
        display: true,
        text: 'Run 506, channel025, Pedestal',
        color: '#000',
        fullSize: false,
        font: { family: fontName, size: 16.67, weight: 'normal', lineHeight: 1.2 },
        padding: { top: 13, bottom: 3 }
      }
    },
    scales: {
      x: {
        type: 'linear',
        min: -492,
        max: 10342,
        afterBuildTicks(scale) { scale.ticks = xTicks.map(v => ({ value: v })); },
        afterFit(scale) { scale.height = 59; },
        ticks: {
          color: '#000',
          font: { family: fontName, size: 13.89 },
          maxRotation: 0,
          padding: 4,
          callback: v => String(v)
        },
        grid: { color: '#b0b0b0', lineWidth: 1.1, tickColor: '#000', tickLength: 5 },
        border: { color: '#000', width: 1.1 },
        title: {
          display: true,
          text: 'Sample #',
          color: '#000',
          font: { family: fontName, size: 13.89 },
          padding: { top: 4, bottom: 13 }
        }
      },
      y: {
        type: 'linear',
        min: 5926.94,
        max: 5996.11,
        afterBuildTicks(scale) { scale.ticks = yTicks.map(v => ({ value: v })); },
        afterFit(scale) { scale.width = 81; },
        ticks: {
          color: '#000',
          font: { family: fontName, size: 13.89 },
          padding: 6,
          callback: v => String(v)
        },
        grid: { color: '#b0b0b0', lineWidth: 1.1, tickColor: '#000', tickLength: 5 },
        border: { color: '#000', width: 1.1 },
        title: {
          display: true,
          text: 'ADC Counts',
          color: '#000',
          font: { family: fontName, size: 13.89 },
          padding: { top: 13, bottom: 4 }
        }
      }
    }
  }
});
</script>
</body>
</html>
